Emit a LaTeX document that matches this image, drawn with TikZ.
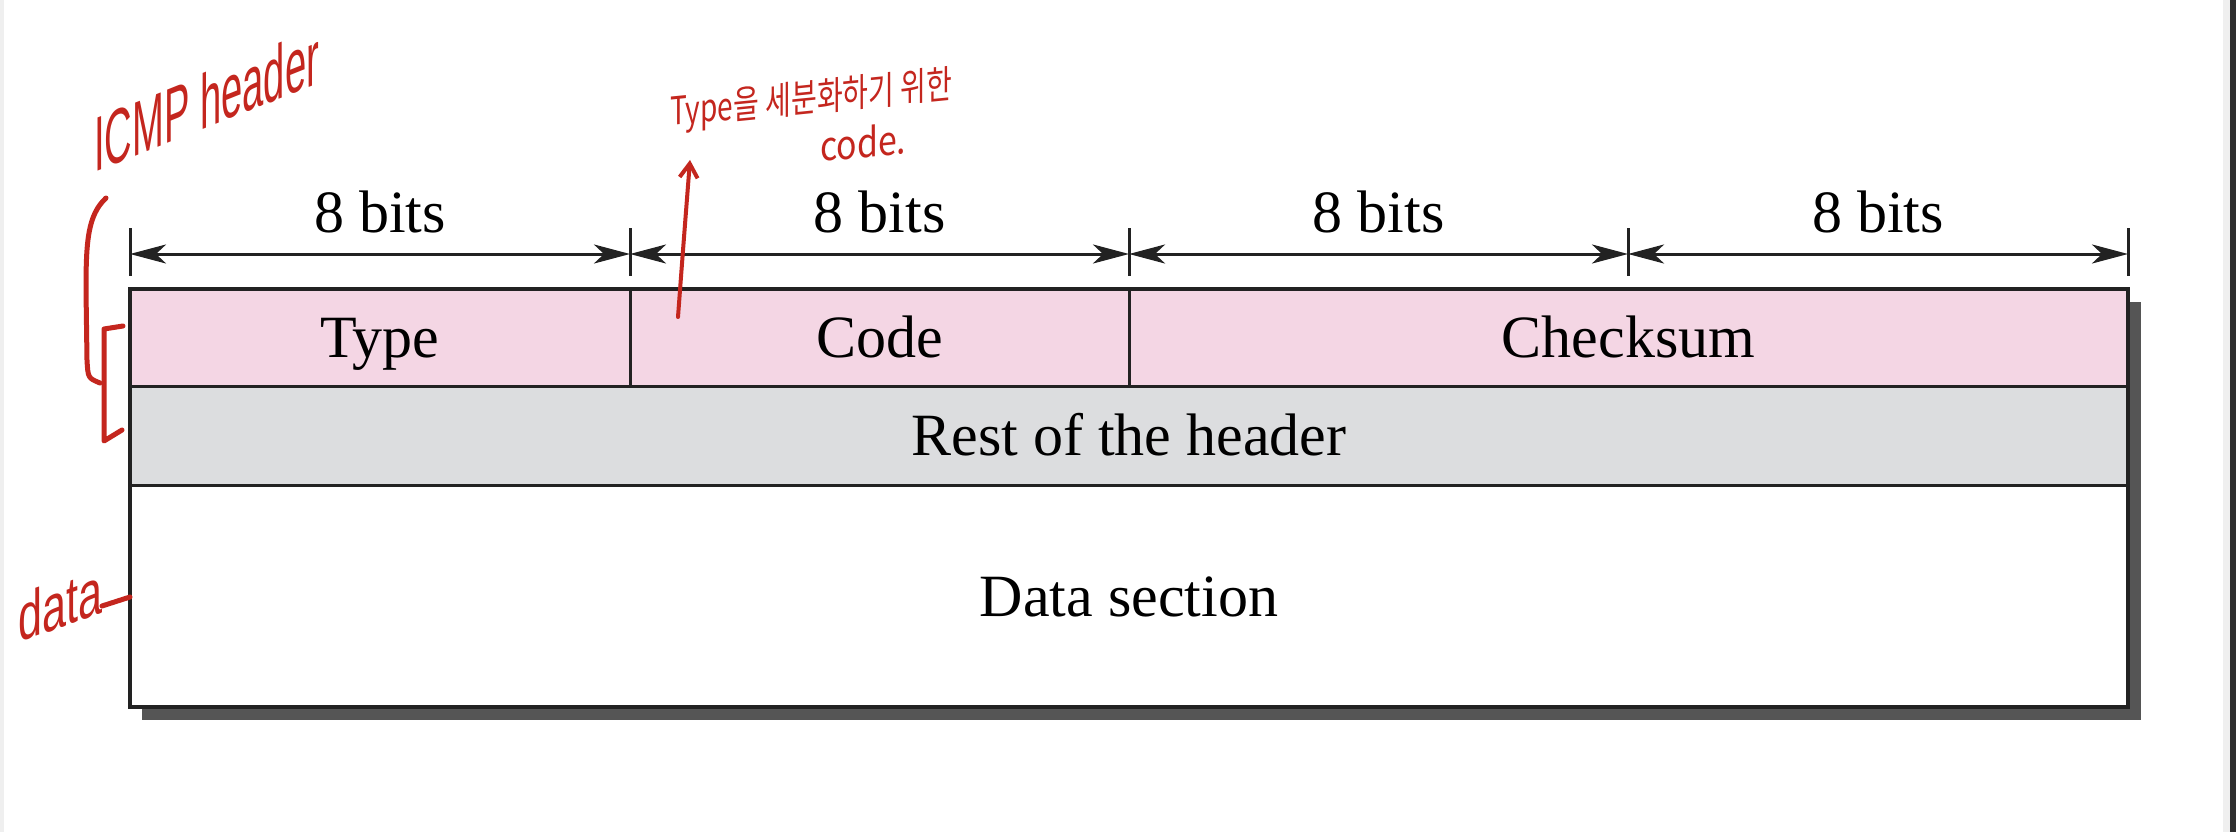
\documentclass[tikz,border=0pt]{standalone}
\usepackage{fontspec}
\setmainfont{Liberation Serif}
\setsansfont{Liberation Sans}
\newfontfamily\kr{Noto Sans CJK KR}
\usetikzlibrary{arrows.meta,calc}
\definecolor{pinkc}{RGB}{244,214,228}
\definecolor{grayc}{RGB}{220,221,223}
\definecolor{shadowc}{RGB}{85,85,85}
\definecolor{edgec}{RGB}{34,34,34}
\definecolor{handred}{RGB}{196,38,30}
\definecolor{stripl}{RGB}{239,239,239}
\definecolor{stripd}{RGB}{45,45,45}
\tikzset{
  cell/.style={draw=edgec, line width=3pt, anchor=north west, inner sep=0pt, outer sep=0pt,
    font=\fontsize{60}{60}\selectfont, text=black, text height=40pt, text depth=0pt},
  dim/.style={draw=edgec, line width=3pt, {Stealth[length=36pt,width=19pt,inset=10pt]}-{Stealth[length=36pt,width=19pt,inset=10pt]}},
  tick/.style={draw=edgec, line width=3pt},
  bitlabel/.style={anchor=base, font=\fontsize{60}{60}\selectfont, inner sep=0pt},
  hand/.style={draw=handred, line width=5pt, line cap=round, line join=round},
  handtext/.style={text=handred, inner sep=0pt},
}
\begin{document}
\begin{tikzpicture}[x=1pt,y=-1pt]
\useasboundingbox (0,0) rectangle (2236,832);
\fill[white] (0,0) rectangle (2236,832);
% screen edges
\fill[stripl] (0,0) rectangle (4,832);
\fill[stripl] (2223,0) rectangle (2230,832);
\fill[stripd] (2230,0) rectangle (2236,832);
% shadow
\fill[shadowc] (142,302) rectangle (2141,720);
% cells
\node[cell, fill=pinkc, minimum width=500pt, minimum height=97pt] (type) at (130,289) {Type};
\node[cell, fill=pinkc, minimum width=499pt, minimum height=97pt] (code) at (630,289) {Code};
\node[cell, fill=pinkc, minimum width=999pt, minimum height=97pt] (checksum) at (1129,289) {Checksum};
\node[cell, fill=grayc, minimum width=1998pt, minimum height=99pt] (rest) at (130,386) {Rest of the header};
\node[cell, fill=white, minimum width=1998pt, minimum height=222pt] (datasec) at (130,485) {Data section};
\draw[edgec, line width=4pt] (type.north west) rectangle (datasec.south east);
% dimension ticks
\foreach \i/\x in {0/130,1/630,2/1129,3/1628,4/2128}{
  \coordinate (tt\i) at (\x,228);
  \coordinate (tb\i) at (\x,276);
  \coordinate (ta\i) at (\x,254);
  \draw[tick] (tt\i) -- (tb\i);
}
\foreach \i/\j in {0/1,1/2,2/3,3/4}{
  \draw[dim] (ta\i) -- (ta\j);
  \node[bitlabel] (lab\i) at ($(ta\i)!0.5!(ta\j)+(0,-22)$) {8 bits};
}
% handwritten annotations
\node[handtext, yslant=0.40, anchor=base west] (icmp) at (94,173) {\resizebox{225pt}{56pt}{\sffamily ICMP header}};
\draw[hand] (106,198) .. controls (88,215) and (86,240) .. (86,290) -- (87,360) .. controls (88,378) .. (100,383);
\draw[hand] (123,326) -- (104,329) -- (104,441) -- (122,430);
\node[handtext, yslant=0.10, anchor=base west] (kr1) at (670,126) {\resizebox{282pt}{32pt}{\kr Type을 세분화하기 위한}};
\node[handtext, yslant=0.10, anchor=base west] (kr2) at (820,162) {\resizebox{86pt}{32pt}{\kr code.}};
\coordinate (arrs) at (678,317);
\coordinate (arre) at (690,160);
\draw[hand, line width=4pt, -{Straight Barb[length=14pt,width=18pt]}] (arrs) .. controls (683,250) .. (arre);
\node[handtext, yslant=0.36, anchor=base west] (datahand) at (18,643) {\resizebox{84pt}{48pt}{\sffamily data}};
\coordinate (tail) at (102,606);
\draw[hand] (tail) -- (datasec.west |- 0,597);
\end{tikzpicture}
\end{document}
